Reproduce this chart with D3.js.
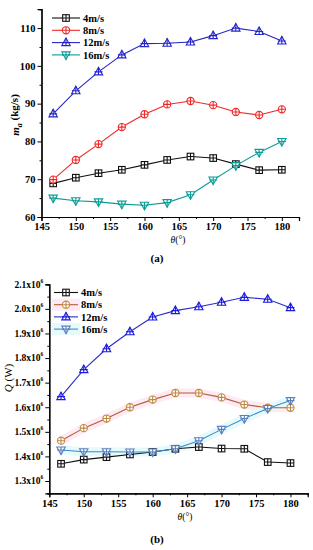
<!DOCTYPE html>
<html><head><meta charset="utf-8">
<script src="https://cdn.jsdelivr.net/npm/d3@7"></script>
<style>
html,body{margin:0;padding:0;background:#fff;}
svg{display:block;font-family:"Liberation Serif","Times New Roman",serif;font-weight:bold;}
</style></head>
<body><svg id="c" width="313" height="550"></svg>
<script>
const theta = [146.7,150,153.3,156.7,160,163.3,166.7,170,173.3,176.7,180];
const seriesNames = ["4m/s","8m/s","12m/s","16m/s"];
// Panel (a): m_a (kg/s)
const ma4  = [68.9,70.4,71.6,72.5,73.8,75.1,76.0,75.6,74.0,72.4,72.5];
const ma8  = [69.9,75.1,79.3,83.8,87.2,89.8,90.7,89.6,87.8,87.0,88.5];
const ma12 = [87.3,93.4,98.4,102.9,105.9,106.0,106.3,108.0,110.0,109.1,106.6];
const ma16 = [65.0,64.3,64.0,63.4,63.1,63.8,65.9,69.8,73.6,77.1,80.0];
// Panel (b): Q (W), in units of 10^6
const q4  = [1.370,1.387,1.397,1.408,1.418,1.431,1.438,1.432,1.431,1.377,1.373];
const q8  = [1.464,1.515,1.554,1.600,1.631,1.658,1.658,1.640,1.611,1.598,1.598];
const q12 = [1.643,1.753,1.838,1.907,1.967,1.993,2.009,2.027,2.047,2.039,2.005];
const q16 = [1.426,1.419,1.419,1.418,1.418,1.431,1.464,1.510,1.554,1.595,1.627];
const xTicks = [145,150,155,160,165,170,175,180];
const yTicksA = [60,70,80,90,100,110];
const yTicksB = [1.3,1.4,1.5,1.6,1.7,1.8,1.9,2.0,2.1];

const svg = d3.select("#c");
const markers = ["square","circle","up","down"];

function marker(g, type, color, x, y){
  const m = g.append("g").attr("transform",`translate(${x},${y})`)
    .attr("fill","#fff").attr("stroke",color).attr("stroke-width",1.1);
  if(type==="square"){ m.append("rect").attr("x",-3.3).attr("y",-3.3).attr("width",6.6).attr("height",6.6);
    m.append("path").attr("d","M-3.3,0H3.3M0,-3.3V3.3"); }
  else if(type==="circle"){ m.append("circle").attr("r",3.6);
    m.append("path").attr("d","M-3.6,0H3.6M0,-3.6V3.6"); }
  else if(type==="up"){ m.append("path").attr("d","M0,-4.6L4.2,3L-4.2,3Z");
    m.append("path").attr("d","M-4,0H4M0,-4.6V3"); }
  else { m.append("path").attr("d","M0,4.6L4.2,-3L-4.2,-3Z");
    m.append("path").attr("d","M-4,0H4M0,4.6V-3"); }
}

function panel(opt){
  const g = svg.append("g");
  const x = d3.scaleLinear().domain([145,182.5]).range(opt.xr);
  const y = d3.scaleLinear().domain(opt.yd).range(opt.yr);
  // glow bands
  opt.series.forEach((s,i)=>{
    if(!s.glow) return;
    g.append("path").datum(s.v).attr("fill","none").attr("stroke",s.glow)
      .attr("stroke-width",9).attr("stroke-linejoin","round")
      .attr("d",d3.line().x((d,j)=>x(theta[j])).y(d=>y(d)));
  });
  // axes
  const xa = g.append("g").attr("transform",`translate(0,${opt.yr[0]})`)
    .call(d3.axisBottom(x).tickValues(xTicks).tickSize(4).tickPadding(2).tickFormat(d3.format("d")));
  const xm = g.append("g").attr("transform",`translate(0,${opt.yr[0]})`)
    .call(d3.axisBottom(x).tickValues(d3.range(147.5,183,5)).tickSize(2).tickFormat(""));
  const ya = g.append("g").attr("transform",`translate(${opt.xr[0]},0)`)
    .call(d3.axisLeft(y).tickValues(opt.yt).tickSize(4).tickFormat(""));
  const ym = g.append("g").attr("transform",`translate(${opt.xr[0]},0)`)
    .call(d3.axisLeft(y).tickValues(opt.ym).tickSize(2).tickFormat(""));
  [xa,xm,ya,ym].forEach(a=>{
    a.select(".domain").attr("stroke","#000").attr("stroke-width",1.2);
    a.selectAll(".tick line").attr("stroke","#000").attr("stroke-width",1);
  });
  xa.selectAll(".tick text").attr("font-family","Liberation Serif").attr("font-weight","bold")
    .attr("font-size",10.5).attr("fill","#000");
  // y tick labels
  opt.yt.forEach(t=>{
    const tx = g.append("text").attr("x",opt.xr[0]-6).attr("y",y(t)).attr("dy","0.35em")
      .attr("text-anchor","end").attr("font-size",opt.sup?9.5:10.5).attr("fill","#000");
    if(opt.sup){
      tx.append("tspan").text(d3.format(".1f")(t)+"x10");
      tx.append("tspan").attr("font-size",5.5).attr("dy","-0.9em").text("6");
    } else tx.text(t);
  });
  // series
  opt.series.forEach((s,i)=>{
    g.append("path").datum(s.v).attr("fill","none").attr("stroke",s.line||s.color)
      .attr("stroke-width",1.1)
      .attr("d",d3.line().x((d,j)=>x(theta[j])).y(d=>y(d)));
    s.v.forEach((d,j)=>marker(g,markers[i],s.color,x(theta[j]),y(d)));
  });
  // legend
  opt.series.forEach((s,i)=>{
    const ly = opt.leg.y + i*opt.leg.dy;
    if(s.glow) g.append("rect").attr("x",opt.leg.x-2).attr("y",ly-6).attr("width",opt.leg.len+4).attr("height",12).attr("fill",s.glow);
    g.append("line").attr("x1",opt.leg.x).attr("x2",opt.leg.x+opt.leg.len).attr("y1",ly).attr("y2",ly)
      .attr("stroke",s.line||s.color).attr("stroke-width",1.1);
    marker(g,markers[i],s.color,opt.leg.x+opt.leg.len/2,ly);
    g.append("text").attr("x",opt.leg.x+opt.leg.len+3).attr("y",ly).attr("dy","0.35em")
      .attr("font-size",10.5).attr("fill","#000").text(seriesNames[i]);
  });
  // x title
  const xt = g.append("text").attr("x",opt.xt[0]).attr("y",opt.xt[1]).attr("text-anchor","middle")
    .attr("font-size",9.5).attr("font-weight","normal").attr("fill","#000");
  xt.append("tspan").attr("font-style","italic").text("θ");
  xt.append("tspan").text("(°)");
  // y title
  const yt = g.append("text").attr("transform",`translate(${opt.ytp[0]},${opt.ytp[1]}) rotate(-90)`)
    .attr("text-anchor","middle").attr("font-size",11).attr("fill","#000");
  opt.ytitle(yt);
  // panel label
  g.append("text").attr("x",157).attr("y",opt.lab[1]).attr("text-anchor","middle")
    .attr("font-size",11).attr("fill","#000").text(opt.lab[0]);
}

panel({
  xr:[41.5,299], yd:[60,115], yr:[217,9.2],
  yt:yTicksA, ym:[65,75,85,95,105,115],
  series:[{v:ma4,color:"#111"},{v:ma8,color:"#f02828"},{v:ma12,color:"#2424c8"},{v:ma16,color:"#0a9c96"}],
  leg:{x:52,y:18,dy:12.3,len:28},
  xt:[178,243], ytp:[19,115],
  ytitle:t=>{ t.append("tspan").attr("font-style","italic").text("m");
    t.append("tspan").attr("font-style","italic").attr("font-size",8).attr("dy","0.35em").text("a");
    t.append("tspan").attr("dy","-0.35em").text(" (kg/s)"); },
  lab:["(a)",262]
});
panel({
  xr:[49.3,307.7], yd:[1.25,2.1], yr:[493.3,284.3],
  yt:yTicksB, ym:[1.25,1.35,1.45,1.55,1.65,1.75,1.85,1.95,2.05],
  sup:true,
  series:[{v:q4,color:"#111"},{v:q8,color:"#c08a40",line:"#b85a30",glow:"#fdeaf4"},{v:q12,color:"#1a1ae0",line:"#2a2ad0"},{v:q16,color:"#5a80c0",line:"#3a8cc8",glow:"#e6f9fb"}],
  leg:{x:54,y:292.5,dy:12.2,len:24},
  xt:[185,520], ytp:[12,378],
  ytitle:t=>{ t.append("tspan").attr("font-style","italic").attr("font-weight","normal").text("Q");
    t.append("tspan").attr("font-weight","normal").text(" (W)"); },
  lab:["(b)",543]
});
</script></body></html>
